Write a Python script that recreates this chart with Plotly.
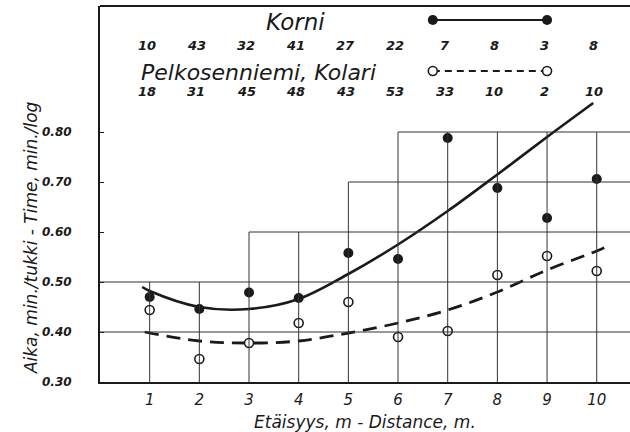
import plotly.graph_objects as go

# ---- data ----
distance = [1, 2, 3, 4, 5, 6, 7, 8, 9, 10]
korni_time = [0.470, 0.446, 0.479, 0.468, 0.558, 0.546, 0.788, 0.688, 0.628, 0.706]
pelko_time = [0.444, 0.346, 0.378, 0.418, 0.460, 0.390, 0.402, 0.514, 0.552, 0.522]
korni_n = [10, 43, 32, 41, 27, 22, 7, 8, 3, 8]
pelko_n = [18, 31, 45, 48, 43, 53, 33, 10, 2, 10]

# fitted (hand-drawn) curves, read point by point
korni_curve_x = [0.85, 1, 2, 3, 4, 5, 6, 7, 8, 9, 9.93]
korni_curve_y = [0.490, 0.482, 0.450, 0.446, 0.466, 0.516, 0.575, 0.642, 0.715, 0.790, 0.858]
pelko_curve_x = [0.9, 2, 3, 4, 5, 6, 7, 8, 9, 10, 10.23]
pelko_curve_y = [0.400, 0.382, 0.378, 0.382, 0.398, 0.418, 0.444, 0.480, 0.524, 0.562, 0.572]

y_ticks = [0.30, 0.40, 0.50, 0.60, 0.70, 0.80]
y_tick_text = ["0.30", "0.40", "0.50", "0.60", "0.70", "0.80"]

# stepped grid: height of each vertical grid line, start of each horizontal one
grid_top = [0.5, 0.5, 0.6, 0.6, 0.7, 0.8, 0.8, 0.8, 0.8, 0.8]
grid_levels = [0.4, 0.5, 0.6, 0.7, 0.8]
grid_starts = [0, 0, 3, 5, 6]

# ---- layout constants ----
X_MAX = 10.67
Y_MIN, Y_MAX = 0.30, 1.052
INK = "#1a1a1a"
FONT = "DejaVu Sans"
KEY_X = [6.7, 9.0]
KEY_Y = [1.024, 0.922]
ROW_Y = [0.974, 0.882]

fig = go.Figure()

shapes = []
for xv, top in zip(distance, grid_top):
    shapes.append(dict(type="line", xref="x", yref="y", x0=xv, x1=xv, y0=Y_MIN, y1=top,
                       line=dict(color="#333", width=1)))
for lv, st in zip(grid_levels, grid_starts):
    shapes.append(dict(type="line", xref="x", yref="y", x0=st, x1=X_MAX, y0=lv, y1=lv,
                       line=dict(color="#333", width=1)))
# top frame line
shapes.append(dict(type="line", xref="paper", yref="paper", x0=0, x1=1, y0=1, y1=1,
                   line=dict(color=INK, width=2)))

# curves
fig.add_trace(go.Scatter(x=korni_curve_x, y=korni_curve_y, mode="lines",
                         line=dict(color=INK, width=2.6, shape="spline", smoothing=1.0),
                         showlegend=False, hoverinfo="skip"))
fig.add_trace(go.Scatter(x=pelko_curve_x, y=pelko_curve_y, mode="lines",
                         line=dict(color=INK, width=2.8, dash="14px,8px", shape="spline", smoothing=1.0),
                         showlegend=False, hoverinfo="skip"))
# points
fig.add_trace(go.Scatter(x=distance, y=korni_time, mode="markers", name="Korni",
                         marker=dict(symbol="circle", size=10, color=INK, line=dict(width=0)),
                         showlegend=False))
fig.add_trace(go.Scatter(x=distance, y=pelko_time, mode="markers", name="Pelkosenniemi, Kolari",
                         marker=dict(symbol="circle", size=9, color="white", line=dict(color=INK, width=1.6)),
                         showlegend=False))

# legend keys
fig.add_trace(go.Scatter(x=KEY_X, y=[KEY_Y[0]] * 2, mode="lines+markers",
                         line=dict(color=INK, width=1.8),
                         marker=dict(size=10, color=INK), showlegend=False, hoverinfo="skip"))
fig.add_trace(go.Scatter(x=KEY_X, y=[KEY_Y[1]] * 2, mode="lines",
                         line=dict(color=INK, width=1.8, dash="7px,5px"),
                         showlegend=False, hoverinfo="skip"))
fig.add_trace(go.Scatter(x=KEY_X, y=[KEY_Y[1]] * 2, mode="markers",
                         marker=dict(size=9, color="white", line=dict(color=INK, width=1.6)),
                         showlegend=False, hoverinfo="skip"))

annotations = []
annotations.append(dict(text="Korni", x=3.93, y=1.020, xref="x", yref="y", showarrow=False,
                        xanchor="center", yanchor="middle",
                        font=dict(family=FONT, size=23, style="italic", color=INK)))
annotations.append(dict(text="Pelkosenniemi, Kolari", x=3.19, y=0.920, xref="x", yref="y", showarrow=False,
                        xanchor="center", yanchor="middle",
                        font=dict(family=FONT, size=22, style="italic", color=INK)))
for xv, n1, n2 in zip(distance, korni_n, pelko_n):
    annotations.append(dict(text=str(n1), x=xv, y=ROW_Y[0], xref="x", yref="y", showarrow=False,
                            xanchor="center", yanchor="middle",
                            xshift=-3, font=dict(family=FONT, size=13, style="italic", weight="bold", color=INK)))
    annotations.append(dict(text=str(n2), x=xv, y=ROW_Y[1], xref="x", yref="y", showarrow=False,
                            xanchor="center", yanchor="middle",
                            xshift=-3, font=dict(family=FONT, size=13, style="italic", weight="bold", color=INK)))
annotations.append(dict(text="Aika, min./tukki - Time, min./log", x=-0.13, y=0.588,
                        xref="paper", yref="y", showarrow=False, textangle=-90,
                        xanchor="center", yanchor="middle",
                        font=dict(family=FONT, size=17, style="italic", color=INK)))
annotations.append(dict(text="Etäisyys, m - Distance, m.", x=5.34, y=-0.106,
                        xref="x", yref="paper", showarrow=False,
                        xanchor="center", yanchor="middle",
                        font=dict(family=FONT, size=17, style="italic", color=INK)))

fig.update_layout(
    width=630, height=432,
    margin=dict(l=100, r=0, t=6, b=50),
    paper_bgcolor="white", plot_bgcolor="white",
    shapes=shapes, annotations=annotations,
    showlegend=False,
    xaxis=dict(range=[0, X_MAX], tickmode="array", tickvals=distance,
               ticktext=[str(d) for d in distance], showgrid=False, zeroline=False,
               showline=True, linecolor=INK, linewidth=2, ticks="",
               ticklabelstandoff=3,
               tickfont=dict(family=FONT, size=15, style="italic", color=INK)),
    yaxis=dict(range=[Y_MIN, Y_MAX], tickmode="array", tickvals=y_ticks, ticktext=y_tick_text,
               showgrid=False, zeroline=False, showline=True, linecolor=INK, linewidth=2,
               ticks="inside", ticklen=4, tickcolor=INK, ticklabelstandoff=24,
               tickfont=dict(family=FONT, size=12, style="italic", weight="bold", color=INK)),
)

fig.write_html("out.html")
